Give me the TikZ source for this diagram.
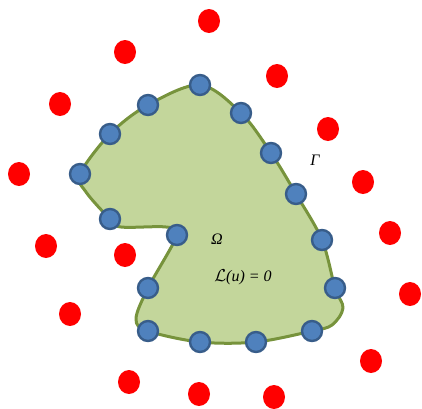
\documentclass[tikz,border=0pt]{standalone}
\usepackage{fontspec}
\setmainfont{Liberation Serif}
\usetikzlibrary{shapes.geometric}
\begin{document}
\begin{tikzpicture}[x=1pt,y=-1pt,
  src/.style={circle,draw=bluebd,fill=bluefl,line width=2.4pt,minimum size=20pt,inner sep=0pt},
  ext/.style={ellipse,fill=red,draw=none,minimum width=22pt,minimum height=24pt,inner sep=0pt},
  lbl/.style={font=\fontsize{16}{18}\selectfont\itshape}]
\definecolor{bluefl}{HTML}{4F81BD}
\definecolor{bluebd}{HTML}{385D8A}
\definecolor{greenfl}{HTML}{C3D69B}
\definecolor{greenbd}{HTML}{77933C}
\useasboundingbox (0,0) rectangle (422,408);
% domain
\draw[fill=greenfl,draw=greenbd,line width=3pt,line join=round]
  plot[smooth cycle,tension=0.55] coordinates {
  (200,85) (241,113) (271,153) (296,194) (322,240) (335,288) (343,308)
  (332,325) (312,331) (256,342) (200,342) (148,331) (136,319) (148,288)
  (177,235) (166,227) (121,227) (110,219) (86,192) (80,174) (110,134) (148,105)};
% boundary points
\foreach \n/\x/\y in {b1/200/85,b2/148/105,b3/110/134,b4/80/174,b5/110/219,b6/177/235,b7/148/288,b8/148/331,b9/200/342,b10/256/342,b11/312/331,b12/335/288,b13/322/240,b14/296/194,b15/271/153,b16/241/113}
  \node[src] (\n) at (\x,\y) {};
% exterior points
\foreach \n/\x/\y in {r1/209/21,r2/125/52,r3/277/76,r4/60/104,r5/328/129,r6/19/174,r7/363/182,r8/46/246,r9/125/255,r10/390/233,r11/70/314,r12/410/294,r13/371/361,r14/129/382,r15/199/394,r16/274/397}
  \node[ext] (\n) at (\x,\y) {};
\node[lbl] (gamma) at (315,160) {Γ};
\node[lbl] (omega) at (217,239) {Ω};
\node[lbl] (eq) at (243,277) {$\mathcal{L}$(u) = 0};
\end{tikzpicture}
\end{document}
